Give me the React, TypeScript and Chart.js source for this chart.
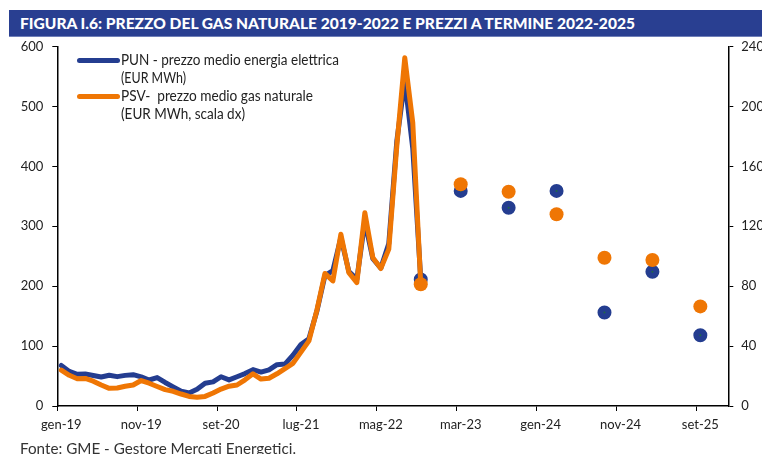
import React, { useEffect, useLayoutEffect, useRef } from "react";
import { Chart, registerables } from "chart.js";

Chart.register(...registerables);

// ---- data ----
// month index: 0 = gen-19 ; points sit at mid-month
const xTickMonths = [0, 10, 20, 30, 40, 50, 60, 70, 80];
const xTickLabels = ["gen-19", "nov-19", "set-20", "lug-21", "mag-22", "mar-23", "gen-24", "nov-24", "set-25"];

// PUN - prezzo medio energia elettrica (EUR/MWh), gen-19 .. ott-22
const punMonthly = [
  67.6, 57.7, 52.9, 53.4, 51.0, 48.5, 51.4, 49.0, 51.1, 52.3, 48.6, 43.4,
  47.5, 39.3, 32.0, 24.8, 21.8, 28.0, 38.0, 40.3, 48.8, 43.6, 48.8, 54.1,
  60.7, 56.6, 60.4, 69.0, 69.9, 84.8, 102.7, 112.4, 158.6, 217.6, 226.0, 281.2,
  224.5, 211.7, 308.1, 246.0, 230.1, 271.3, 441.7, 543.2, 429.9, 211.2,
];

// PSV - prezzo medio gas naturale (EUR/MWh, scala dx), gen-19 .. ott-22
const psvMonthly = [
  24.0, 20.5, 18.2, 18.4, 16.6, 14.0, 11.8, 12.0, 13.2, 14.0, 17.0, 15.2,
  13.0, 10.9, 9.8, 8.0, 6.4, 5.8, 6.4, 8.7, 11.3, 13.2, 14.0, 17.5,
  21.5, 18.0, 18.5, 21.5, 25.0, 28.5, 36.0, 43.5, 64.0, 88.5, 83.5, 114.7,
  89.0, 82.4, 129.0, 99.0, 91.8, 104.7, 173.5, 232.5, 189.0, 81.3,
];

// forward prices (prezzi a termine)
const forwardMonths = [45, 50, 56, 62, 68, 74, 80];
const punForward = [211.2, 359, 331, 359, 156, 224, 118];
const psvForward = [81.3, 148, 143, 128, 99, 97.5, 66.5];

const BLUE = "#243d90";
const ORANGE = "#ef7604";
const TITLE_BG = "#293f91";
const TEXT = "#222";

function FitText({ text, width, style }: { text: string; width: number; style?: React.CSSProperties }) {
  const ref = useRef<HTMLSpanElement>(null);
  useLayoutEffect(() => {
    const el = ref.current;
    if (!el) return;
    el.style.transform = "none";
    const w = el.getBoundingClientRect().width;
    if (w > 0) el.style.transform = `scaleX(${width / w})`;
  });
  return (
    <span
      ref={ref}
      style={{ display: "inline-block", whiteSpace: "pre", transformOrigin: "0 0", ...style }}
    >
      {text}
    </span>
  );
}

function PriceChart() {
  const canvasRef = useRef<HTMLCanvasElement>(null);
  useEffect(() => {
    const canvas = canvasRef.current;
    if (!canvas) return;
    const tickFont = { family: "Lato, 'Open Sans', sans-serif", size: 13 };
    const chart = new Chart(canvas, {
      type: "line",
      data: {
        datasets: [
          {
            label: "PSV a termine",
            data: forwardMonths.map((m, i) => ({ x: m + 0.5, y: psvForward[i] })),
            yAxisID: "y1",
            showLine: false,
            pointRadius: 7,
            pointBackgroundColor: ORANGE,
            pointBorderWidth: 0,
            borderColor: ORANGE,
            order: 0,
          },
          {
            label: "PSV",
            data: psvMonthly.map((v, i) => ({ x: i + 0.5, y: v })),
            yAxisID: "y1",
            borderColor: ORANGE,
            borderWidth: 5,
            pointRadius: 0,
            tension: 0,
            borderCapStyle: "round",
            borderJoinStyle: "round",
            order: 1,
          },
          {
            label: "PUN a termine",
            data: forwardMonths.map((m, i) => ({ x: m + 0.5, y: punForward[i] })),
            yAxisID: "y",
            showLine: false,
            pointRadius: 4,
            pointBackgroundColor: "#1f6a45",
            pointBorderColor: BLUE,
            pointBorderWidth: 6,
            borderColor: BLUE,
            order: 2,
          },
          {
            label: "PUN",
            data: punMonthly.map((v, i) => ({ x: i + 0.5, y: v })),
            yAxisID: "y",
            borderColor: BLUE,
            borderWidth: 5,
            pointRadius: 0,
            tension: 0,
            borderCapStyle: "round",
            borderJoinStyle: "round",
            order: 3,
          },
        ],
      },
      options: {
        responsive: false,
        animation: false,
        events: [],
        layout: { padding: { top: 46.5, left: 0, right: 0, bottom: 0 } },
        plugins: { legend: { display: false }, tooltip: { enabled: false }, title: { display: false } },
        scales: {
          x: {
            type: "linear",
            min: 0,
            max: 84,
            afterBuildTicks: (s: any) => {
              s.ticks = xTickMonths.map((v) => ({ value: v }));
            },
            afterFit: (s: any) => {
              s.height = 48;
            },
            ticks: {
              autoSkip: false,
              maxRotation: 0,
              labelOffset: 4,
              padding: 6,
              color: TEXT,
              font: tickFont,
              callback: (_v: any, i: number) => xTickLabels[i],
            },
            grid: { drawOnChartArea: false, drawTicks: true, tickLength: 5, color: "#000", lineWidth: 1 },
            border: { display: true, color: "#000", width: 1.5 },
          },
          y: {
            position: "left",
            min: 0,
            max: 600,
            afterFit: (s: any) => {
              s.width = 57.3;
            },
            ticks: { stepSize: 100, padding: 9, color: TEXT, font: tickFont },
            grid: { drawOnChartArea: false, drawTicks: true, tickLength: 5, color: "#000", lineWidth: 1 },
            border: { display: true, color: "#000", width: 1.5 },
          },
          y1: {
            position: "right",
            min: 0,
            max: 240,
            afterFit: (s: any) => {
              s.width = 33.7;
            },
            ticks: { stepSize: 40, padding: 8, color: TEXT, font: tickFont },
            grid: { drawOnChartArea: false, drawTicks: true, tickLength: 5, color: "#000", lineWidth: 1 },
            border: { display: true, color: "#000", width: 1.5 },
          },
        },
      },
    } as any);
    return () => chart.destroy();
  }, []);
  return (
    <canvas
      ref={canvasRef}
      width={762}
      height={454}
      style={{ position: "absolute", left: 0, top: 0, width: 762, height: 454 }}
    />
  );
}

export default function App() {
  const legendFont: React.CSSProperties = {
    fontFamily: "Lato, 'Open Sans', sans-serif",
    fontSize: 14.5,
    color: TEXT,
    lineHeight: "18px",
  };
  return (
    <div
      style={{
        position: "absolute",
        left: 0,
        top: 0,
        width: 762,
        height: 454,
        overflow: "hidden",
        background: "#fff",
      }}
    >
      <div
        style={{
          position: "absolute",
          left: 9,
          top: 10,
          width: 753,
          height: 27,
          background: TITLE_BG,
          borderBottom: "1px solid #6f7fb8",
          boxSizing: "border-box",
        }}
      >
        <div style={{ position: "absolute", left: 11, top: 5 }}>
          <FitText
            text="FIGURA I.6: PREZZO DEL GAS NATURALE 2019-2022 E PREZZI A TERMINE 2022-2025"
            width={615}
            style={{ fontFamily: "Lato, 'DejaVu Sans', sans-serif", fontWeight: 900, fontSize: 14.5, color: "#fff", lineHeight: "17px" }}
          />
        </div>
      </div>

      <PriceChart />

      {/* legend */}
      <div style={{ position: "absolute", left: 77, top: 57.5, width: 43, height: 5, borderRadius: 2.5, background: BLUE }} />
      <div style={{ position: "absolute", left: 77, top: 94.2, width: 43, height: 5, borderRadius: 2.5, background: ORANGE }} />
      <div style={{ position: "absolute", left: 121, top: 51 }}>
        <div><FitText text="PUN - prezzo medio energia elettrica" width={218} style={legendFont} /></div>
        <div><FitText text="(EUR MWh)" width={65} style={legendFont} /></div>
        <div><FitText text="PSV-  prezzo medio gas naturale" width={192} style={legendFont} /></div>
        <div><FitText text="(EUR MWh, scala dx)" width={124} style={legendFont} /></div>
      </div>

      <div style={{ position: "absolute", left: 20, top: 440 }}>
        <FitText
          text="Fonte: GME - Gestore Mercati Energetici."
          width={276}
          style={{ fontFamily: "Lato, 'Open Sans', sans-serif", fontSize: 14.5, color: "#333", lineHeight: "18px" }}
        />
      </div>
    </div>
  );
}
